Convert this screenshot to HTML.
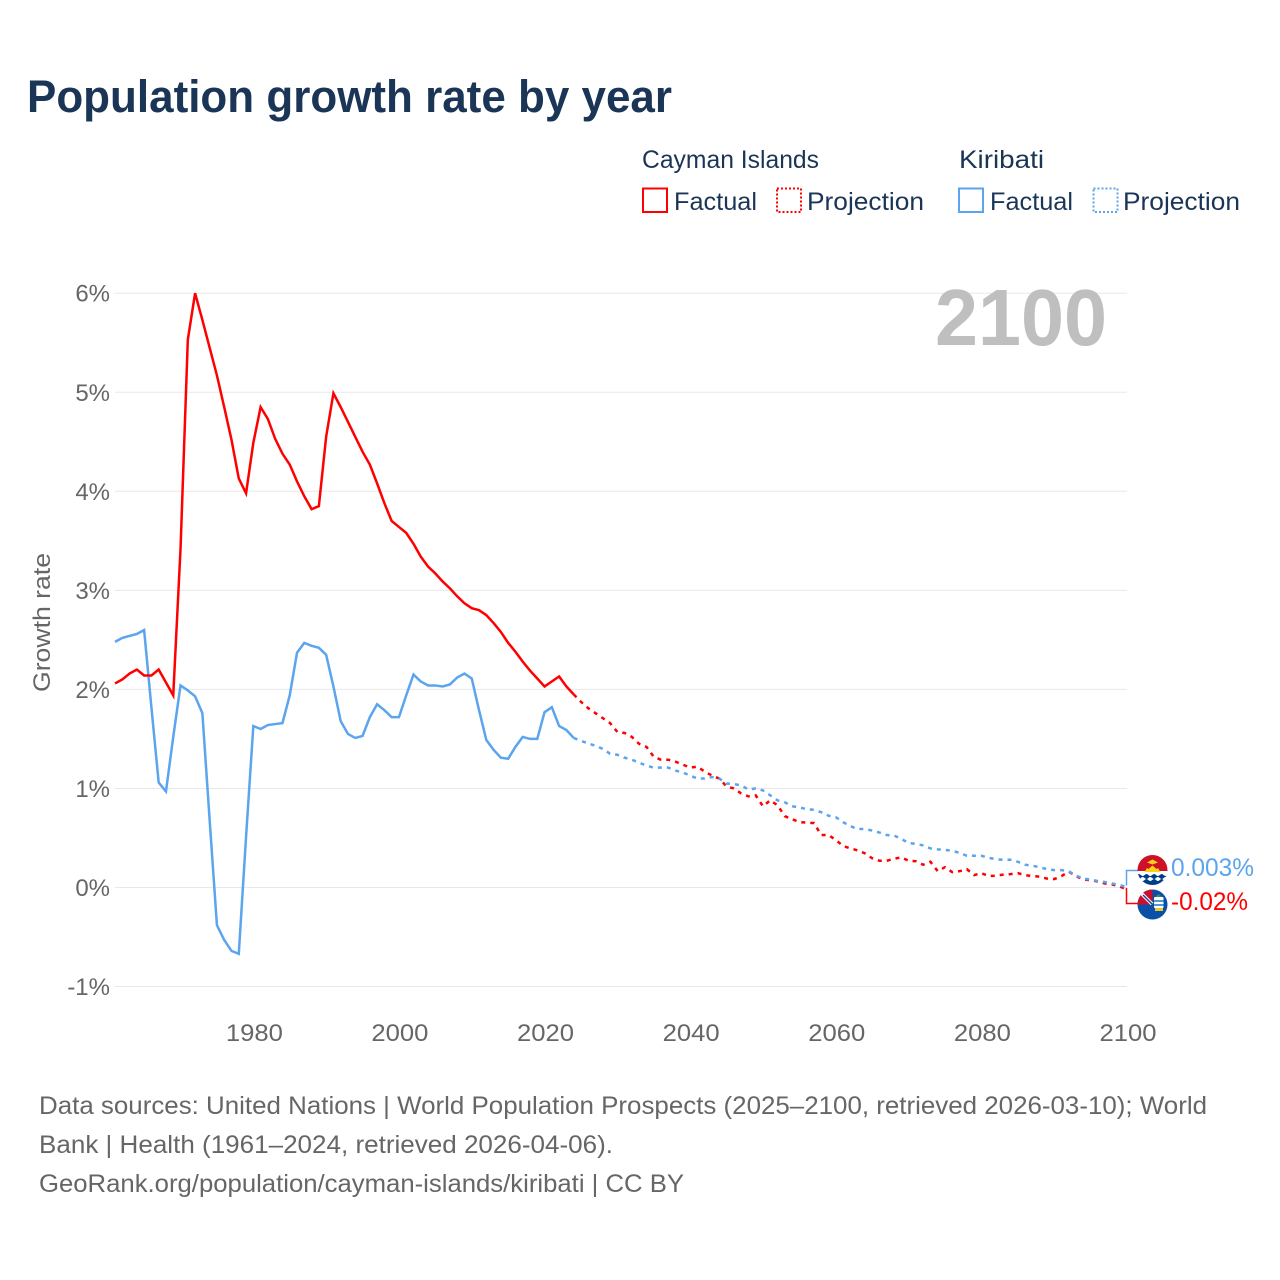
<!DOCTYPE html>
<html lang="en">
<head>
<meta charset="utf-8">
<title>Population growth rate by year</title>
<style>
html,body{margin:0;padding:0;background:#fff;width:1280px;height:1280px;overflow:hidden}
svg{display:block}
text{font-family:"Liberation Sans",sans-serif}
</style>
</head>
<body>
<svg id="chart" width="1280" height="1280" viewBox="0 0 1280 1280" xmlns="http://www.w3.org/2000/svg">
<defs>
<clipPath id="flag-clip-k"><circle cx="1152.500" cy="870" r="15"/></clipPath>
<clipPath id="flag-clip-c"><circle cx="1152.500" cy="904.500" r="15"/></clipPath>
</defs>
<rect width="1280" height="1280" fill="#fff"/>
<text x="27" y="112" font-size="45" font-weight="700" fill="#1a3556" textLength="645" lengthAdjust="spacingAndGlyphs">Population growth rate by year</text>

<g font-size="25" fill="#1a3556">
<text x="642" y="168" textLength="177" lengthAdjust="spacingAndGlyphs">Cayman Islands</text>
<text x="959" y="168" textLength="85" lengthAdjust="spacingAndGlyphs">Kiribati</text>
<g>
<rect x="643" y="188.500" width="24" height="23.500" fill="none" stroke="#ff0000" stroke-width="2"/>
<text x="674" y="210" textLength="83" lengthAdjust="spacingAndGlyphs">Factual</text>
</g>
<g>
<rect x="777" y="188.500" width="24" height="23.500" fill="none" stroke="#ff0000" stroke-width="2" stroke-dasharray="2 2"/>
<text x="807" y="210" textLength="117" lengthAdjust="spacingAndGlyphs">Projection</text>
</g>
<g>
<rect x="959" y="188.500" width="24" height="23.500" fill="none" stroke="#5ba4ee" stroke-width="2"/>
<text x="990" y="210" textLength="83" lengthAdjust="spacingAndGlyphs">Factual</text>
</g>
<g>
<rect x="1093.500" y="188.500" width="24" height="23.500" fill="none" stroke="#5ba4ee" stroke-width="2" stroke-dasharray="2 2"/>
<text x="1123" y="210" textLength="117" lengthAdjust="spacingAndGlyphs">Projection</text>
</g>
</g>

<g id="grid"></g>
<g id="yticks"></g>
<g id="xticks"></g>
<text transform="translate(50,622.500) rotate(-90)" text-anchor="middle" font-size="24" fill="#666" textLength="139" lengthAdjust="spacingAndGlyphs">Growth rate</text>
<text x="935" y="345" font-size="80" font-weight="700" fill="#bfbfbf" textLength="172" lengthAdjust="spacingAndGlyphs">2100</text>
<g id="series"></g>

<g fill="none" stroke-width="1.500">
<path d="M1126.500 885.500V870.500H1139" stroke="#5ba4ee"/>
<path d="M1126.500 888V903.500H1139" stroke="#ff0000"/>
</g>

<g clip-path="url(#flag-clip-k)">
<rect x="1137" y="855" width="31" height="17" fill="#ce1126"/>
<rect x="1137" y="871" width="31" height="15" fill="#fff"/>
<path d="M1144.500 872l2.500-4 1.500 1 4-3.500 4 3.500 1.500-1 2.500 4z" fill="#fcd116"/>
<path d="M1147 862.500l5.500-3 5.500 3-5.500 2z" fill="#fcd116"/>
<path d="M1137 875q2-2 3.800 0t3.800 0 3.800 0 3.800 0 3.800 0 3.800 0 3.800 0 3.800 0V878q-2-2-3.800 0t-3.800 0-3.800 0-3.800 0-3.800 0-3.800 0-3.800 0-3.800 0z" fill="#003f87"/>
<path d="M1137 880q2-2 3.800 0t3.800 0 3.800 0 3.800 0 3.800 0 3.800 0 3.800 0 3.800 0V886H1137z" fill="#003f87"/>
</g>

<g clip-path="url(#flag-clip-c)">
<rect x="1137" y="889" width="31" height="31" fill="#0b50a8"/>
<rect x="1137" y="889" width="15.500" height="15.500" fill="#c8102e"/>
<path d="M1141 893l11 11" stroke="#fff" stroke-width="3.500"/>
<path d="M1143 895l9 9" stroke="#1c3f94" stroke-width="1.500"/>
<rect x="1154" y="897" width="9.500" height="11" rx="1" fill="#fff"/>
<rect x="1154" y="900" width="9.500" height="2" fill="#4b9bd5"/>
<rect x="1154" y="904" width="9.500" height="2" fill="#4b9bd5"/>
<path d="M1155 897l3.500-3 3.500 3z" fill="#3e8e41"/>
<rect x="1155" y="908" width="8" height="3" fill="#e8c52e"/>
</g>

<text x="1171" y="876" font-size="25" fill="#5ba4ee" textLength="83" lengthAdjust="spacingAndGlyphs">0.003%</text>
<text x="1171" y="910" font-size="25" fill="#ff0000" textLength="77" lengthAdjust="spacingAndGlyphs">-0.02%</text>

<g font-size="25" fill="#666">
<text x="39" y="1114" textLength="1168" lengthAdjust="spacingAndGlyphs">Data sources: United Nations | World Population Prospects (2025–2100, retrieved 2026-03-10); World</text>
<text x="39" y="1153" textLength="574" lengthAdjust="spacingAndGlyphs">Bank | Health (1961–2024, retrieved 2026-04-06).</text>
<text x="39" y="1192" textLength="645" lengthAdjust="spacingAndGlyphs">GeoRank.org/population/cayman-islands/kiribati | CC BY</text>
</g>
</svg>
<script>
const factualStartYear = 1961;
const projectionStartYear = 2024;
const yTickValues = [-1, 0, 1, 2, 3, 4, 5, 6];
const yTickLabels = ["-1%", "0%", "1%", "2%", "3%", "4%", "5%", "6%"];
const xTickYears = [1980, 2000, 2020, 2040, 2060, 2080, 2100];
const caymanFactual = [
2.06,2.10,2.16,2.20,2.14,2.14,2.20,2.07,1.94,3.42,
5.53,6.00,5.73,5.45,5.17,4.85,4.52,4.13,3.98,4.49,
4.85,4.73,4.53,4.38,4.27,4.10,3.95,3.82,3.85,4.55,
4.99,4.85,4.70,4.55,4.40,4.27,4.08,3.88,3.70,3.64,
3.58,3.47,3.34,3.24,3.17,3.09,3.02,2.94,2.87,2.82,
2.80,2.75,2.67,2.58,2.47,2.38,2.28,2.19,2.11,2.03,
2.08,2.13,2.03,1.95];
const kiribatiFactual = [
2.48,2.52,2.54,2.56,2.60,1.82,1.06,0.97,1.52,2.04,
1.99,1.93,1.76,0.68,-0.38,-0.53,-0.64,-0.67,0.51,1.63,
1.60,1.64,1.65,1.66,1.94,2.37,2.47,2.44,2.42,2.35,
2.03,1.68,1.55,1.51,1.53,1.72,1.85,1.79,1.72,1.72,
1.94,2.15,2.08,2.04,2.04,2.03,2.05,2.12,2.16,2.11,
1.79,1.49,1.39,1.31,1.30,1.42,1.52,1.50,1.50,1.77,
1.82,1.63,1.59,1.51];
const caymanProjection = [
1.95,1.875,1.81,1.76,1.71,1.66,1.57,1.56,1.52,1.45,1.42,
1.32,1.29,1.29,1.27,1.24,1.21,1.22,1.17,1.13,1.10,
1.02,1.00,0.95,0.92,0.93,0.82,0.88,0.83,0.72,0.69,
0.66,0.655,0.65,0.53,0.53,0.48,0.42,0.395,0.375,0.345,
0.295,0.27,0.27,0.29,0.305,0.27,0.265,0.23,0.26,0.165,
0.205,0.155,0.165,0.185,0.125,0.145,0.115,0.12,0.13,0.135,
0.145,0.125,0.115,0.11,0.09,0.085,0.115,0.16,0.115,0.08,
0.075,0.06,0.04,0.03,0.01,-0.02];
const kiribatiProjection = [
1.51,1.48,1.455,1.43,1.40,1.35,1.34,1.31,1.29,1.26,1.23,
1.21,1.21,1.21,1.18,1.16,1.13,1.10,1.10,1.115,1.10,
1.05,1.045,1.03,0.99,1.00,0.98,0.93,0.88,0.86,0.82,
0.81,0.79,0.785,0.76,0.725,0.71,0.66,0.62,0.59,0.59,
0.575,0.555,0.53,0.525,0.49,0.45,0.44,0.425,0.395,0.385,
0.38,0.37,0.35,0.32,0.32,0.32,0.30,0.285,0.28,0.28,
0.26,0.23,0.22,0.205,0.185,0.175,0.175,0.165,0.12,0.09,
0.08,0.065,0.055,0.04,0.025,0.003];

const NS = 'http://www.w3.org/2000/svg';
function xScale(year) { return 115 + (year - 1961) * (1012 / 139); }
function yScale(pct) { return 887.5 - pct * 99.05; }
function linePath(values, startYear) {
  return values.map(function (v, i) {
    return (i ? 'L' : 'M') + xScale(startYear + i).toFixed(2) + ' ' + yScale(v).toFixed(2);
  }).join('');
}

const gridGroup = document.getElementById('grid');
const yGroup = document.getElementById('yticks');
yTickValues.forEach(function (v, i) {
  const gl = document.createElementNS(NS, 'line');
  
  
  gl.setAttribute('x1', 115);
  gl.setAttribute('x2', 1127);
  gl.setAttribute('y1', yScale(v));
  gl.setAttribute('y2', yScale(v));
  gl.setAttribute('stroke', '#e8e8e8');
  gl.setAttribute('stroke-width', 1);
  gridGroup.appendChild(gl);
  const t = document.createElementNS(NS, 'text');
  
  
  t.setAttribute('x', 110);
  t.setAttribute('y', yScale(v) + 8.5);
  t.setAttribute('text-anchor', 'end');
  t.setAttribute('font-size', 24);
  t.setAttribute('fill', '#666');
  t.textContent = yTickLabels[i];
  yGroup.appendChild(t);
});

const xGroup = document.getElementById('xticks');
xTickYears.forEach(function (yr) {
  const t = document.createElementNS(NS, 'text');
  
  
  t.setAttribute('x', xScale(yr) + 1);
  t.setAttribute('y', 1041);
  t.setAttribute('text-anchor', 'middle');
  t.setAttribute('font-size', 24);
  t.setAttribute('fill', '#666');
  t.setAttribute('textLength', 57);
  t.setAttribute('lengthAdjust', 'spacingAndGlyphs');
  t.textContent = String(yr);
  xGroup.appendChild(t);
});

const seriesGroup = document.getElementById('series');

const kiribatiFactualLine = document.createElementNS(NS, 'path');


kiribatiFactualLine.setAttribute('d', linePath(kiribatiFactual, factualStartYear));
kiribatiFactualLine.setAttribute('fill', 'none');
kiribatiFactualLine.setAttribute('stroke', '#5ba4ee');
kiribatiFactualLine.setAttribute('stroke-width', 2.5);
seriesGroup.appendChild(kiribatiFactualLine);

const caymanFactualLine = document.createElementNS(NS, 'path');


caymanFactualLine.setAttribute('d', linePath(caymanFactual, factualStartYear));
caymanFactualLine.setAttribute('fill', 'none');
caymanFactualLine.setAttribute('stroke', '#ff0000');
caymanFactualLine.setAttribute('stroke-width', 2.5);
seriesGroup.appendChild(caymanFactualLine);

const caymanProjectionLine = document.createElementNS(NS, 'path');


caymanProjectionLine.setAttribute('d', linePath(caymanProjection, projectionStartYear));
caymanProjectionLine.setAttribute('fill', 'none');
caymanProjectionLine.setAttribute('stroke', '#ff0000');
caymanProjectionLine.setAttribute('stroke-width', 2.5);
caymanProjectionLine.setAttribute('stroke-dasharray', '4 5');
seriesGroup.appendChild(caymanProjectionLine);

const kiribatiProjectionLine = document.createElementNS(NS, 'path');


kiribatiProjectionLine.setAttribute('d', linePath(kiribatiProjection, projectionStartYear));
kiribatiProjectionLine.setAttribute('fill', 'none');
kiribatiProjectionLine.setAttribute('stroke', '#5ba4ee');
kiribatiProjectionLine.setAttribute('stroke-width', 2.5);
kiribatiProjectionLine.setAttribute('stroke-dasharray', '4 5');
seriesGroup.appendChild(kiribatiProjectionLine);
</script>
</body>
</html>
